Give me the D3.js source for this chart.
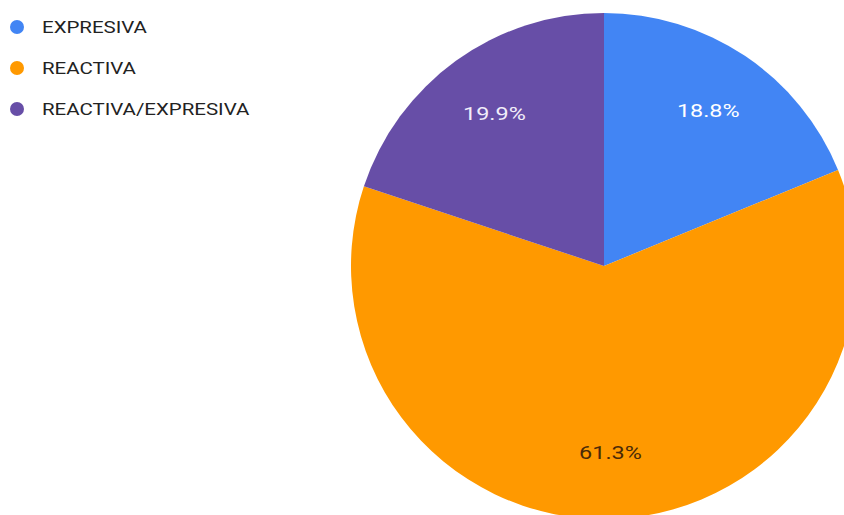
<!DOCTYPE html>
<html>
<head>
<meta charset="utf-8">
<script src="https://cdn.jsdelivr.net/npm/d3@7"></script>
<style>
  body { margin: 0; background: #fff; }
  svg { display: block; font-family: Roboto, "Noto Sans", sans-serif; }
</style>
</head>
<body>
<div id="chart"></div>
<script>
// data
const categories = ["EXPRESIVA", "REACTIVA", "REACTIVA/EXPRESIVA"];
const values = [18.8, 61.3, 19.9];
const colors = ["#4285F4", "#FF9900", "#674EA7"];
const labelColors = ["#ffffff", "#4a2a08", "#f2eefa"];

const width = 844, height = 515;
const center = { x: 604, y: 266 };
const radius = 253;

const svg = d3.select("#chart")
  .append("svg")
  .attr("width", width)
  .attr("height", height);

const data = categories.map((c, i) => ({ name: c, value: values[i], i: i }));

const pie = d3.pie()
  .sort(null)
  .value(d => d.value);

const arc = d3.arc().innerRadius(0).outerRadius(radius);
const labelArc = d3.arc().innerRadius(radius * 0.74).outerRadius(radius * 0.74);

const g = svg.append("g")
  .attr("transform", `translate(${center.x},${center.y})`);

const arcs = pie(data);

g.selectAll("path")
  .data(arcs)
  .enter()
  .append("path")
  .attr("d", arc)
  .attr("fill", d => colors[d.data.i]);

// the text in the picture is drawn a bit wide, so stretch it horizontally
g.selectAll("text")
  .data(arcs)
  .enter()
  .append("text")
  .attr("transform", d => `translate(${labelArc.centroid(d)}) scale(1.3,1)`)
  .attr("text-anchor", "middle")
  .attr("dy", "0.35em")
  .style("font-size", "18px")
  .attr("fill", d => labelColors[d.data.i])
  .text(d => d.data.value.toFixed(1) + "%");

// legend
const legend = svg.append("g")
  .attr("transform", "translate(17,27)");

const item = legend.selectAll("g")
  .data(data)
  .enter()
  .append("g")
  .attr("transform", (d, i) => `translate(0,${i * 41})`);

item.append("circle")
  .attr("r", 7)
  .attr("fill", d => colors[d.i]);

item.append("text")
  .attr("transform", "translate(25,0) scale(1.28,1)")
  .attr("dy", "0.35em")
  .style("font-size", "16px")
  .attr("fill", "#222")
  .text(d => d.name);
</script>
</body>
</html>
